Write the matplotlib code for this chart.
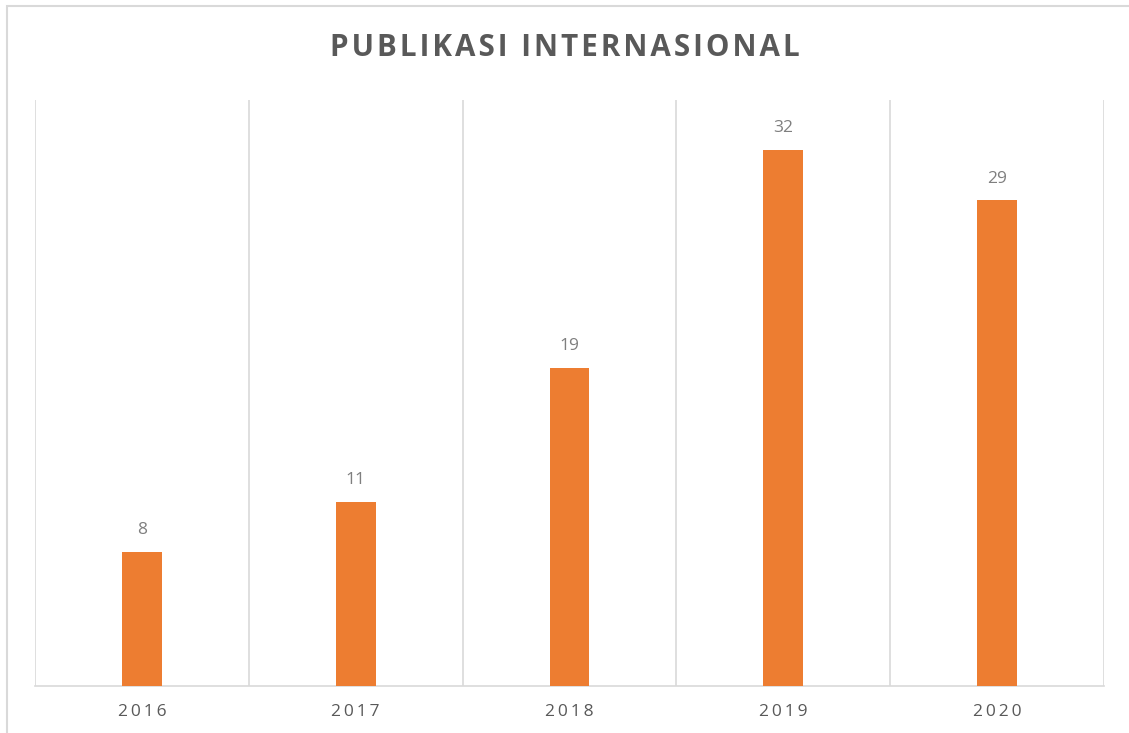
import matplotlib.pyplot as plt
from matplotlib.patches import Rectangle

years = ['2016', '2017', '2018', '2019', '2020']
counts = [8, 11, 19, 32, 29]
title = 'PUBLIKASI INTERNASIONAL'

bar_color = '#ED7D31'
grid_color = '#D9D9D9'
text_color = '#595959'

plt.rcParams['font.family'] = ['Open Sans', 'DejaVu Sans']

def spaced(s, sep='\u2009'):
    return sep.join(s)

fig = plt.figure(figsize=(11.29, 7.33), dpi=100)
ax = fig.add_axes([35 / 1129, 1 - 686 / 733, (1104 - 35) / 1129, (686 - 100) / 733])

x = list(range(len(years)))
ax.bar(x, counts, width=0.187, color=bar_color, zorder=3)
for xi, v in zip(x, counts):
    ax.annotate(str(v), (xi, v), xytext=(0, 10), textcoords='offset points',
                ha='center', va='bottom', fontsize=12.5, color='#7F7F7F')

ax.set_xlim(-0.5, len(years) - 0.5)
ax.set_ylim(0, 35)
ax.set_yticks([])
ax.set_xticks(x)
ax.set_xticklabels([spaced(y, '\u2009') for y in years], fontsize=12.5, color=text_color)
ax.tick_params(axis='x', length=0, pad=13)
for b in [i - 0.5 for i in range(len(years) + 1)]:
    ax.axvline(b, color=grid_color, lw=1.2, zorder=1)
for side in ['top', 'right', 'left']:
    ax.spines[side].set_visible(False)
ax.spines['bottom'].set_color(grid_color)
ax.spines['bottom'].set_linewidth(1.2)

fig.text(0.5, 1 - 48 / 733, spaced(title, '\u200a'), ha='center', va='center',
         fontsize=21.3, fontweight='bold', color=text_color)

# outer chart border
fig.patches.append(Rectangle((7 / 1129, -0.01), 1.02, 1 - 6 / 733 + 0.01,
                             transform=fig.transFigure, fill=False,
                             edgecolor=grid_color, lw=1.5))

fig.savefig('out.png', dpi=100)
